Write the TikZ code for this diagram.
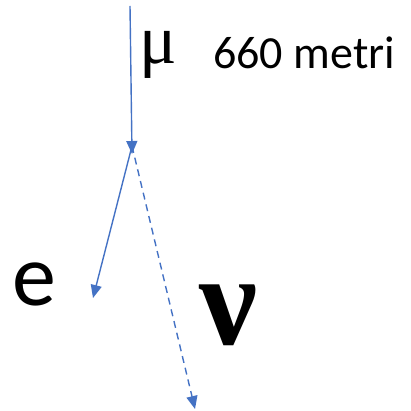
\documentclass[tikz,border=0pt]{standalone}
\usepackage{fontspec}
\setmainfont{Carlito}
\newfontfamily\greekfont{Liberation Serif}
\usetikzlibrary{arrows.meta}
\definecolor{officeblue}{RGB}{68,114,196}
\begin{document}
\begin{tikzpicture}[x=1pt,y=-1pt,
  arr/.style={draw=officeblue, line width=1.4pt, -{Triangle[length=13pt,width=11pt]}},
  lbl/.style={inner sep=0pt, anchor=center}]
\useasboundingbox (0,0) rectangle (411,411);
\coordinate (top) at (130,6);
\coordinate (j) at (132,154);
\coordinate (j2) at (132,146);
\coordinate (etip) at (93,298);
\coordinate (ntip) at (195,409);
\draw[arr] (top) -- (j);
\draw[arr] (j2) -- (etip);
\draw[arr, dash pattern=on 7pt off 5pt] (j2) -- (ntip);
\node[lbl] (mu) at (158,55) {\fontsize{70}{70}\selectfont\greekfont μ};
\node[lbl, anchor=west] (dist) at (213,53) {\fontsize{46}{46}\selectfont 660 metri};
\node[lbl] (e) at (34,284) {\fontsize{88}{88}\selectfont e};
\node[lbl] (nu) at (229,315) {\fontsize{130}{130}\selectfont\greekfont\bfseries ν};
\end{tikzpicture}
\end{document}
